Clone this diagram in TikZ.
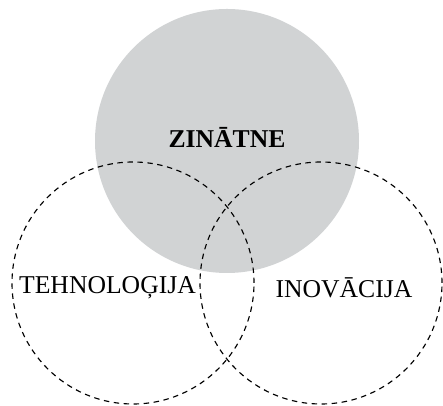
\documentclass[tikz,border=0pt]{standalone}
\usepackage{fontspec}
\setmainfont{Liberation Serif}
\usepackage{xcolor}
\definecolor{zgray}{RGB}{209,211,212}
\tikzset{
  dashcirc/.style={draw=black, line width=0.65pt, dash pattern=on 3.1pt off 2.6pt},
  word/.style={inner sep=0pt, font=\fontsize{14.6}{17}\selectfont}
}
\begin{document}
\begin{tikzpicture}
\useasboundingbox (0,0) rectangle (8.86,8.12);
\coordinate (zc) at (4.54,5.30);
\coordinate (tc) at (2.66,2.46);
\coordinate (ic) at (6.42,2.46);
\fill[zgray] (zc) circle (2.64);
\draw[dashcirc] (tc) circle (2.42);
\draw[dashcirc] (ic) circle (2.42);
\node[word, font=\fontsize{14.6}{17}\selectfont\bfseries] (zinatne) at (4.54,5.38) {ZINĀTNE};
\node[word] (tehn) at (2.15,2.36) {TEHNOLOĢIJA};
\node[word] (inov) at (6.88,2.36) {INOVĀCIJA};
\end{tikzpicture}
\end{document}
